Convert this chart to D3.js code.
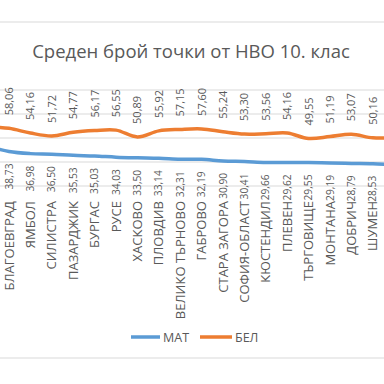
<!DOCTYPE html>
<html>
<head>
<meta charset="utf-8">
<script src="https://cdn.jsdelivr.net/npm/d3@7"></script>
<style>
  body { margin: 0; background: #fff; }
  text { font-family: "Open Sans", "Liberation Sans", sans-serif; fill: #595959; }
</style>
</head>
<body>
<svg id="chart"></svg>
<script>
const width = 384;
const height = 384;

// first and last categories are cut off by the crop
const regions = ["", "БЛАГОЕВГРАД", "ЯМБОЛ", "СИЛИСТРА", "ПАЗАРДЖИК", "БУРГАС", "РУСЕ",
  "ХАСКОВО", "ПЛОВДИВ", "ВЕЛИКО ТЪРНОВО", "ГАБРОВО", "СТАРА ЗАГОРА", "СОФИЯ-ОБЛАСТ",
  "КЮСТЕНДИЛ", "ПЛЕВЕН", "ТЪРГОВИЩЕ", "МОНТАНА", "ДОБРИЧ", "ШУМЕН", " "];
const mat = [43.2, 38.73, 36.98, 36.50, 35.53, 35.03, 34.03, 33.50, 33.14, 32.31, 32.19,
  30.90, 30.41, 29.66, 29.62, 29.55, 29.19, 28.79, 28.53, 27.6];
const bel = [59.4, 58.06, 54.16, 51.72, 54.77, 56.17, 56.55, 50.89, 55.92, 57.15, 57.60,
  55.24, 53.30, 53.56, 54.16, 49.55, 51.19, 53.07, 50.16, 50.3];
const yTicks = [10, 30, 50, 70, 90];
const title = "Среден брой точки от НВО 10. клас";

const fmt = v => v.toFixed(2).replace(".", ",");
// only the categories inside the crop get labels
const shown = (d, i) => i > 0 && i < regions.length - 1;

let svg = d3.select("#chart")
    .attr("width", width)
    .attr("height", height);

// chart border (only top and bottom are in view)
svg.append("line").attr("x1", 0).attr("x2", width).attr("y1", 22).attr("y2", 22)
    .style("stroke", "#d9d9d9");
svg.append("line").attr("x1", 0).attr("x2", width).attr("y1", 358).attr("y2", 358)
    .style("stroke", "#d9d9d9");

svg.append("text")
    .attr("x", 191)
    .attr("y", 58)
    .attr("text-anchor", "middle")
    .style("font-size", "18.5px")
    .text(title);

let x = d3.scalePoint().domain(regions).range([-12.4, 394.2]);
let y = d3.scaleLinear().domain([10, 90]).range([186, 90]);

// gridlines
svg.append("g")
    .selectAll("line")
    .data(yTicks)
    .join("line")
    .attr("x1", 0)
    .attr("x2", width)
    .attr("y1", d => y(d))
    .attr("y2", d => y(d))
    .style("stroke", "#d9d9d9");

let line = d3.line()
    .x((d, i) => x(regions[i]))
    .y(d => y(d))
    .curve(d3.curveCatmullRom.alpha(0.5));

svg.append("path").datum(bel)
    .attr("d", line)
    .attr("fill", "none")
    .attr("stroke", "#ed7d31")
    .attr("stroke-width", 3.5);

svg.append("path").datum(mat)
    .attr("d", line)
    .attr("fill", "none")
    .attr("stroke", "#5b9bd5")
    .attr("stroke-width", 3.5);

// category labels
svg.append("g")
    .selectAll("text")
    .data(regions.filter(shown))
    .join("text")
    .attr("transform", d => "translate(" + x(d) + ",201) rotate(-90)")
    .attr("dy", "0.36em")
    .attr("text-anchor", "end")
    .style("font-size", "13px")
    .text(d => d);

// data labels: БЕЛ above, МАТ below
svg.append("g")
    .selectAll("text")
    .data(bel.map((v, i) => [v, i]).filter(d => shown(null, d[1])))
    .join("text")
    .attr("transform", d => "translate(" + x(regions[d[1]]) + "," + (y(d[0]) - 13) + ") rotate(-90)")
    .attr("dy", "0.36em")
    .attr("text-anchor", "start")
    .style("font-size", "11px")
    .text(d => fmt(d[0]));

svg.append("g")
    .selectAll("text")
    .data(mat.map((v, i) => [v, i]).filter(d => shown(null, d[1])))
    .join("text")
    .attr("transform", d => "translate(" + x(regions[d[1]]) + "," + (y(d[0]) + 12) + ") rotate(-90)")
    .attr("dy", "0.36em")
    .attr("text-anchor", "end")
    .style("font-size", "10.2px")
    .text(d => fmt(d[0]));

// legend
const legend = [
  {name: "МАТ", color: "#5b9bd5", x1: 131, x2: 160},
  {name: "БЕЛ", color: "#ed7d31", x1: 200, x2: 232}
];
let lg = svg.append("g").selectAll("g").data(legend).join("g");
lg.append("line")
    .attr("x1", d => d.x1).attr("x2", d => d.x2)
    .attr("y1", 337).attr("y2", 337)
    .attr("stroke", d => d.color)
    .attr("stroke-width", 3.5);
lg.append("text")
    .attr("x", d => d.x2 + 3)
    .attr("y", 341.5)
    .style("font-size", "12.5px")
    .text(d => d.name);
</script>
</body>
</html>
